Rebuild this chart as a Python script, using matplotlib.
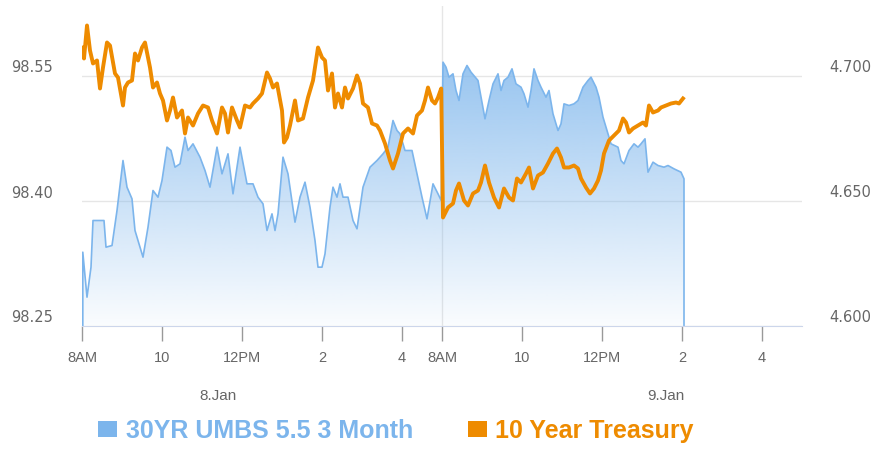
import numpy as np
import matplotlib.pyplot as plt
from matplotlib.patches import Patch
from matplotlib.transforms import ScaledTranslation

# 30YR UMBS 5.5 3 Month, hours after 8AM
umbs_h1 = [0.02, 0.125, 0.225, 0.275, 0.55, 0.6, 0.75, 0.875, 1.025, 1.125, 1.25, 1.325, 1.4, 1.525,
           1.65, 1.775, 1.9, 2.0, 2.125, 2.225, 2.325, 2.45, 2.575, 2.65, 2.775, 2.95, 3.075, 3.2,
           3.375, 3.5, 3.65, 3.775, 3.95, 4.125, 4.275, 4.4, 4.525, 4.625, 4.75, 4.825, 4.9, 5.025,
           5.15, 5.325, 5.45, 5.575, 5.7, 5.825, 5.9, 6.0, 6.075, 6.2, 6.275, 6.375, 6.45, 6.525,
           6.65, 6.775, 6.875, 7.025, 7.2, 7.375, 7.525, 7.65, 7.775, 7.875, 7.95, 8.075, 8.25,
           8.375, 8.5, 8.625, 8.775, 8.9, 8.98]
umbs_v1 = [98.338, 98.284, 98.320, 98.376, 98.376, 98.344, 98.346, 98.388, 98.448, 98.416, 98.402,
           98.364, 98.352, 98.332, 98.368, 98.412, 98.404, 98.424, 98.464, 98.460, 98.440, 98.444,
           98.476, 98.460, 98.468, 98.452, 98.436, 98.416, 98.464, 98.432, 98.456, 98.408, 98.464,
           98.420, 98.420, 98.404, 98.396, 98.364, 98.384, 98.364, 98.384, 98.452, 98.432, 98.374,
           98.404, 98.422, 98.392, 98.352, 98.320, 98.320, 98.336, 98.392, 98.416, 98.404, 98.420,
           98.404, 98.404, 98.376, 98.366, 98.416, 98.440, 98.448, 98.456, 98.464, 98.496, 98.484,
           98.480, 98.460, 98.460, 98.432, 98.404, 98.378, 98.420, 98.408, 98.400]
umbs_h2 = [0.025, 0.1, 0.175, 0.275, 0.35, 0.425, 0.525, 0.625, 0.725, 0.9, 0.975, 1.075, 1.175,
           1.275, 1.4, 1.475, 1.55, 1.65, 1.75, 1.85, 1.975, 2.05, 2.15, 2.225, 2.3, 2.4, 2.475,
           2.6, 2.675, 2.775, 2.9, 2.975, 3.05, 3.175, 3.3, 3.4, 3.525, 3.65, 3.725, 3.85, 3.925,
           4.025, 4.1, 4.225, 4.4, 4.475, 4.55, 4.675, 4.8, 4.9, 4.975, 5.075, 5.15, 5.275, 5.4,
           5.55, 5.65, 5.8, 5.975, 6.05]
umbs_v2 = [98.566, 98.560, 98.548, 98.552, 98.532, 98.520, 98.552, 98.562, 98.554, 98.544, 98.524,
           98.498, 98.520, 98.540, 98.552, 98.532, 98.544, 98.548, 98.558, 98.540, 98.536, 98.528,
           98.512, 98.532, 98.558, 98.544, 98.536, 98.524, 98.532, 98.504, 98.484, 98.492, 98.516,
           98.514, 98.516, 98.520, 98.536, 98.544, 98.548, 98.536, 98.524, 98.500, 98.488, 98.468,
           98.464, 98.448, 98.444, 98.460, 98.468, 98.464, 98.468, 98.474, 98.434, 98.446, 98.442,
           98.440, 98.442, 98.438, 98.434, 98.426]

# 10 Year Treasury
tsy_h1 = [0.025, 0.05, 0.125, 0.2, 0.275, 0.375, 0.45, 0.525, 0.625, 0.7, 0.825, 0.9, 1.025, 1.075,
          1.15, 1.25, 1.325, 1.4, 1.5, 1.575, 1.7, 1.775, 1.875, 1.95, 2.025, 2.125, 2.2, 2.275,
          2.375, 2.5, 2.575, 2.65, 2.775, 2.9, 3.025, 3.15, 3.25, 3.375, 3.5, 3.575, 3.65, 3.75,
          3.875, 3.95, 4.075, 4.2, 4.275, 4.4, 4.5, 4.625, 4.7, 4.775, 4.875, 5.0, 5.05, 5.125,
          5.2, 5.325, 5.4, 5.525, 5.65, 5.775, 5.9, 6.0, 6.075, 6.15, 6.25, 6.325, 6.4, 6.5,
          6.575, 6.65, 6.775, 6.875, 6.95, 7.025, 7.15, 7.25, 7.375, 7.45, 7.575, 7.7, 7.775,
          7.9, 8.025, 8.15, 8.275, 8.375, 8.5, 8.575, 8.65, 8.75, 8.825, 8.9, 8.98]
tsy_v1 = [4.7112, 4.7068, 4.7200, 4.7100, 4.7048, 4.7060, 4.6948, 4.7032, 4.7132, 4.7120, 4.7008,
          4.6992, 4.6880, 4.6952, 4.6972, 4.6980, 4.7088, 4.7060, 4.7112, 4.7132, 4.7032, 4.6952,
          4.6972, 4.6928, 4.6900, 4.6820, 4.6860, 4.6912, 4.6832, 4.6860, 4.6768, 4.6832, 4.6800,
          4.6848, 4.6880, 4.6872, 4.6820, 4.6768, 4.6872, 4.6848, 4.6772, 4.6872, 4.6820, 4.6792,
          4.6880, 4.6872, 4.6888, 4.6908, 4.6928, 4.7012, 4.6988, 4.6952, 4.6968, 4.6860, 4.6732,
          4.6752, 4.6800, 4.6900, 4.6820, 4.6828, 4.6912, 4.6980, 4.7112, 4.7072, 4.7060, 4.6940,
          4.7008, 4.6872, 4.6928, 4.6872, 4.6952, 4.6908, 4.6948, 4.7000, 4.6968, 4.6888, 4.6872,
          4.6808, 4.6800, 4.6780, 4.6728, 4.6660, 4.6628, 4.6688, 4.6768, 4.6788, 4.6768, 4.6840,
          4.6860, 4.6900, 4.6952, 4.6900, 4.6888, 4.6912, 4.6948]
tsy_h2 = [0.025, 0.15, 0.275, 0.35, 0.425, 0.55, 0.65, 0.775, 0.9, 0.975, 1.075, 1.175, 1.3, 1.425,
          1.55, 1.675, 1.775, 1.875, 1.975, 2.1, 2.175, 2.275, 2.4, 2.525, 2.65, 2.775, 2.875,
          2.975, 3.05, 3.175, 3.3, 3.4, 3.475, 3.6, 3.7, 3.8, 3.9, 3.975, 4.05, 4.175, 4.3, 4.425,
          4.525, 4.6, 4.675, 4.775, 4.9, 5.025, 5.1, 5.175, 5.275, 5.4, 5.475, 5.6, 5.725, 5.85,
          5.925, 6.025]
tsy_v2 = [4.6432, 4.6472, 4.6488, 4.6540, 4.6568, 4.6500, 4.6480, 4.6528, 4.6540, 4.6572, 4.6640,
          4.6572, 4.6512, 4.6472, 4.6548, 4.6512, 4.6500, 4.6588, 4.6572, 4.6608, 4.6632, 4.6548,
          4.6600, 4.6612, 4.6648, 4.6688, 4.6708, 4.6672, 4.6632, 4.6632, 4.6640, 4.6628, 4.6588,
          4.6552, 4.6528, 4.6548, 4.6580, 4.6620, 4.6688, 4.6740, 4.6760, 4.6780, 4.6828, 4.6812,
          4.6772, 4.6788, 4.6800, 4.6812, 4.6800, 4.6880, 4.6852, 4.6860, 4.6872, 4.6880, 4.6888,
          4.6892, 4.6888, 4.6908]

series_names = ['30YR UMBS 5.5 3 Month', '10 Year Treasury']
tick_hours = [0, 2, 4, 6, 8]
tick_names = ['8AM', '10', '12PM', '2', '4']
day_names = ['8.Jan', '9.Jan']
session = 9  # 8AM to 5PM shown per day

blue = '#7cb5ec'
orange = '#ee8b00'
narrow = ['Liberation Sans', 'DejaVu Sans']

# one ordinal axis, second day starts where the first one stops
ux = np.array(umbs_h1 + [h + session for h in umbs_h2])
uy = np.array(umbs_v1 + umbs_v2)
tx = np.array(tsy_h1 + [h + session for h in tsy_h2])
ty = np.array(tsy_v1 + tsy_v2)

ymin, ymax = 98.25, 98.634
y2min, y2max = 4.600, 4.728

fig = plt.figure(figsize=(8.77, 4.5), dpi=100)
ax = fig.add_axes([82 / 877, 1 - 325.5 / 450, 720 / 877, 320 / 450])
ax.set_xlim(0, 2 * session)
ax.set_ylim(ymin, ymax)

# gradient under the UMBS line
poly = ax.fill_between(ux, uy, ymin, facecolor='none', edgecolor='none')
grad = np.zeros((256, 1, 4))
grad[:, 0, :3] = np.array([124, 181, 236]) / 255
grad[:, 0, 3] = np.linspace(0.95, 0.04, 256)
im = ax.imshow(grad, extent=(0, 2 * session, ymin, ymax), aspect='auto', origin='upper',
               interpolation='bilinear', zorder=1)
im.set_clip_path(poly.get_paths()[0], ax.transData)
ax.plot(np.r_[ux[0], ux, ux[-1]], np.r_[ymin, uy, ymin], color=blue, lw=1.2, zorder=2)

ax.axvline(session, color='#e6e6e6', lw=1, zorder=0)

ax2 = ax.twinx()
ax2.set_ylim(y2min, y2max)
ax2.plot(tx, ty, color=orange, lw=2.8, solid_joinstyle='round', zorder=3)

for a in (ax, ax2):
    for s in a.spines.values():
        s.set_visible(False)
ax.spines['bottom'].set_visible(True)
ax.spines['bottom'].set_color('#ccd6eb')

ax.set_yticks([98.25, 98.40, 98.55])
ax.set_yticklabels(['98.25', '98.40', '98.55'])
ax2.set_yticks([4.600, 4.650, 4.700])
ax2.set_yticklabels(['4.600', '4.650', '4.700'])
ax.yaxis.grid(True, color='#e6e6e6', lw=1)
ax.set_axisbelow(True)
ax.tick_params(axis='y', length=0, pad=21, labelsize=10.5, labelcolor='#666666')
ax2.tick_params(axis='y', length=0, pad=20, labelsize=10.5, labelcolor='#666666')
shift = ScaledTranslation(0, 0.09, fig.dpi_scale_trans)
for lab in ax.get_yticklabels() + ax2.get_yticklabels():
    lab.set_transform(lab.get_transform() + shift)

xt = tick_hours + [h + session for h in tick_hours]
ax.set_xticks(xt)
ax.set_xticklabels(tick_names * 2, family=narrow)
ax.tick_params(axis='x', length=11, width=1, color='#999999', pad=7, labelsize=10.5,
               labelcolor='#666666')

for i, name in enumerate(day_names):
    ax.text(3.4 + i * 11.2, -0.22, name, transform=ax.get_xaxis_transform(),
            ha='center', va='center', fontsize=11, color='#666666', family=narrow)

handles = [Patch(facecolor=blue, edgecolor='none'), Patch(facecolor=orange, edgecolor='none')]
fig.legend(handles, series_names, loc='center', bbox_to_anchor=(396 / 877, 1 - 431 / 450),
           ncol=2, frameon=False, handlelength=0.75, handleheight=0.6, handletextpad=0.35,
           columnspacing=2.2, labelcolor=[blue, orange],
           prop={'family': narrow, 'weight': 'bold', 'size': 18})

fig.savefig('out.png', dpi=100)
